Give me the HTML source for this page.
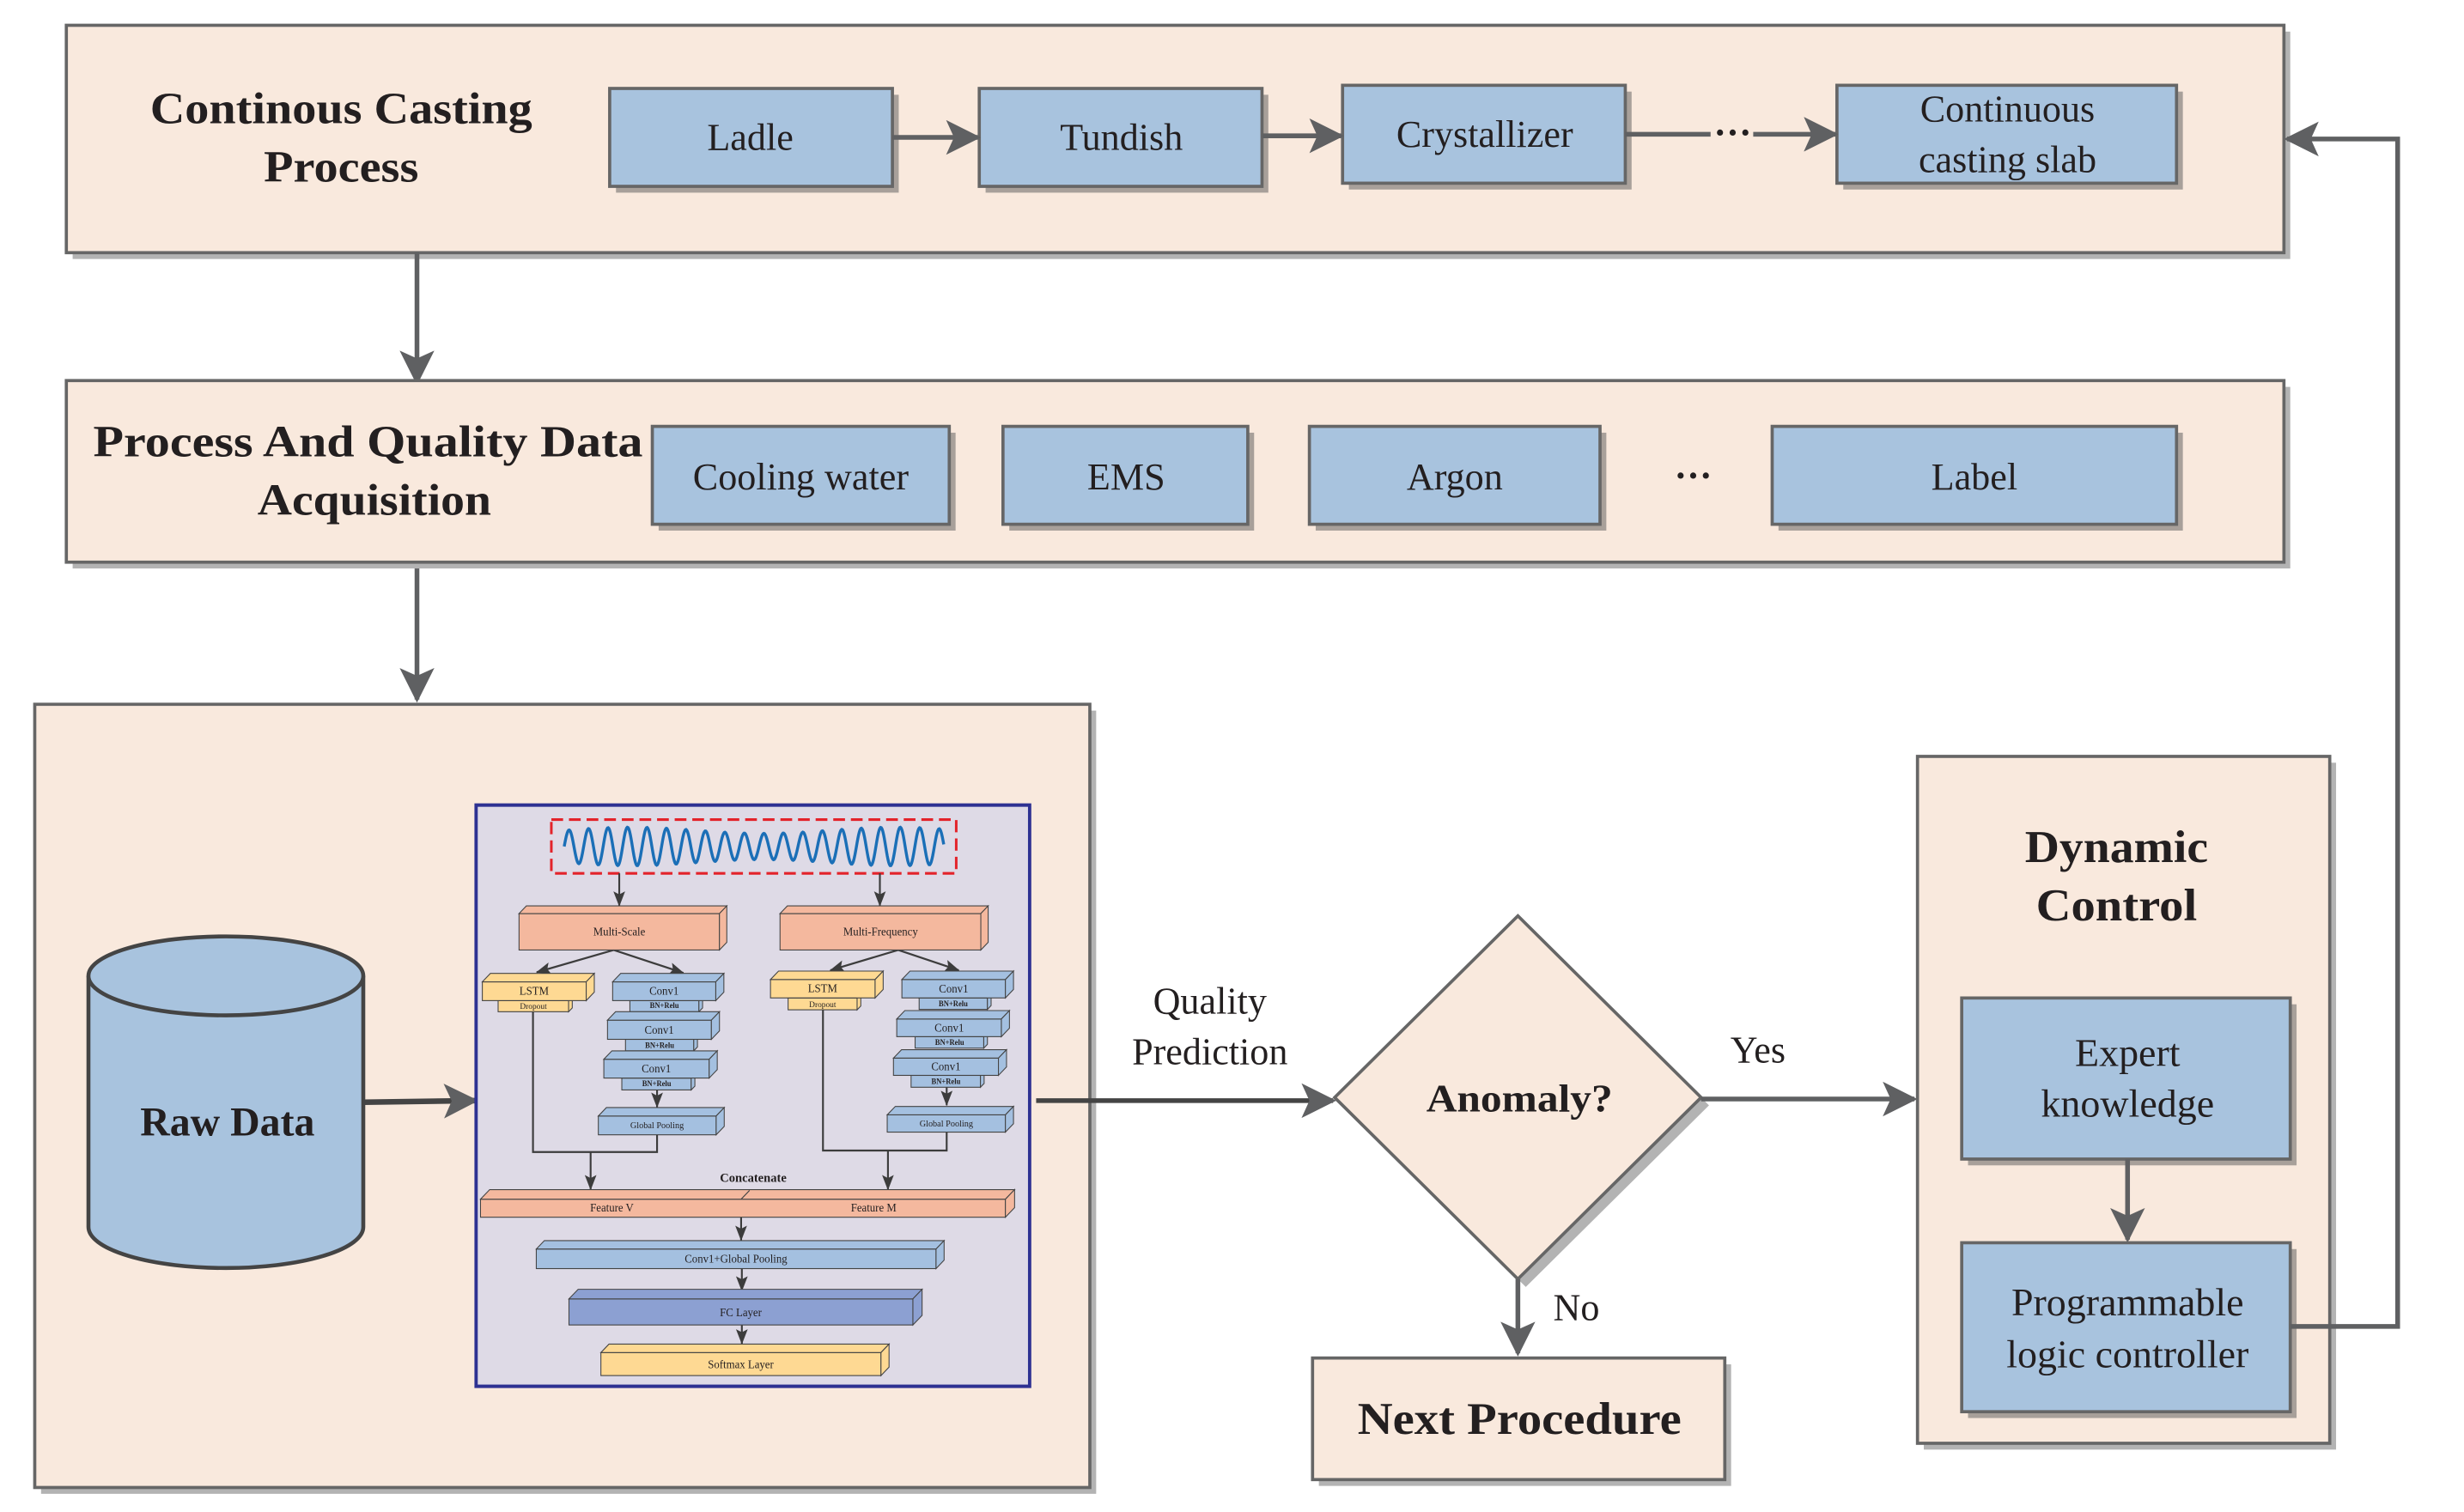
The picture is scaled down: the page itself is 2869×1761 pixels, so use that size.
<!DOCTYPE html>
<html><head><meta charset="utf-8"><style>
html,body{margin:0;padding:0;background:#fff;}
svg{display:block;}
text{font-family:"Liberation Serif",serif;fill:#231f20;}
.b{font-weight:bold;}
</style></head><body>
<svg width="2869" height="1761" viewBox="0 0 1560 957.5" xmlns="http://www.w3.org/2000/svg">
<defs>
<marker id="ah2" markerWidth="22" markerHeight="22" refX="20" refY="11" orient="auto" markerUnits="userSpaceOnUse" viewBox="0 0 22 22">
<path d="M0,0 L22,11 L0,22 L5,11 Z" fill="#5f6062"/></marker>
<marker id="sa" markerWidth="40" markerHeight="40" refX="38" refY="20" orient="auto" markerUnits="userSpaceOnUse" viewBox="0 0 40 40">
<path d="M0,4 L40,20 L0,36 L8,20 Z" fill="#3c3c3c"/></marker>
</defs>

<!-- Box 1 -->
<rect x="46" y="20" width="1404" height="144" fill="#b3b3b3"/>
<rect x="42" y="16" width="1404" height="144" fill="#f9e9dd" stroke="#666" stroke-width="2"/>
<text class="b" x="216" y="78" font-size="28" text-anchor="middle" textLength="242" lengthAdjust="spacingAndGlyphs">Continous Casting</text>
<text class="b" x="216" y="115" font-size="28" text-anchor="middle" textLength="98" lengthAdjust="spacingAndGlyphs">Process</text>
<g font-size="24" text-anchor="middle">
<rect x="390" y="60" width="179" height="62" fill="#a8a09a"/><rect x="386" y="56" width="179" height="62" fill="#a8c3de" stroke="#666" stroke-width="2"/><text x="475" y="95">Ladle</text>
<rect x="624" y="60" width="179" height="62" fill="#a8a09a"/><rect x="620" y="56" width="179" height="62" fill="#a8c3de" stroke="#666" stroke-width="2"/><text x="710" y="95">Tundish</text>
<rect x="854" y="58" width="179" height="62" fill="#a8a09a"/><rect x="850" y="54" width="179" height="62" fill="#a8c3de" stroke="#666" stroke-width="2"/><text x="940" y="93">Crystallizer</text>
<rect x="1167" y="58" width="215" height="62" fill="#a8a09a"/><rect x="1163" y="54" width="215" height="62" fill="#a8c3de" stroke="#666" stroke-width="2"/><text x="1271" y="77">Continuous</text><text x="1271" y="109">casting slab</text>
</g>
<g stroke="#5f6062" stroke-width="3" fill="none">
<line x1="565" y1="87" x2="619" y2="87" marker-end="url(#ah2)"/>
<line x1="799" y1="86" x2="849" y2="86" marker-end="url(#ah2)"/>
<line x1="1029" y1="85" x2="1083" y2="85"/>
<line x1="1110" y1="85" x2="1162" y2="85" marker-end="url(#ah2)"/>
<line x1="264" y1="160" x2="264" y2="242" marker-end="url(#ah2)"/>
<line x1="264" y1="356" x2="264" y2="443" marker-end="url(#ah2)"/>
</g>
<text class="b" x="1097" y="92" font-size="24" text-anchor="middle">···</text>

<!-- Box 2 -->
<rect x="46" y="245" width="1404" height="115" fill="#b3b3b3"/>
<rect x="42" y="241" width="1404" height="115" fill="#f9e9dd" stroke="#666" stroke-width="2"/>
<text class="b" x="233" y="289" font-size="28" text-anchor="middle" textLength="348" lengthAdjust="spacingAndGlyphs">Process And Quality  Data</text>
<text class="b" x="237" y="326" font-size="28" text-anchor="middle" textLength="148" lengthAdjust="spacingAndGlyphs">Acquisition</text>
<g font-size="24" text-anchor="middle">
<rect x="417" y="274" width="188" height="62" fill="#a8a09a"/><rect x="413" y="270" width="188" height="62" fill="#a8c3de" stroke="#666" stroke-width="2"/><text x="507" y="310">Cooling water</text>
<rect x="639" y="274" width="155" height="62" fill="#a8a09a"/><rect x="635" y="270" width="155" height="62" fill="#a8c3de" stroke="#666" stroke-width="2"/><text x="713" y="310">EMS</text>
<rect x="833" y="274" width="184" height="62" fill="#a8a09a"/><rect x="829" y="270" width="184" height="62" fill="#a8c3de" stroke="#666" stroke-width="2"/><text x="921" y="310">Argon</text>
<rect x="1126" y="274" width="256" height="62" fill="#a8a09a"/><rect x="1122" y="270" width="256" height="62" fill="#a8c3de" stroke="#666" stroke-width="2"/><text x="1250" y="310">Label</text>
</g>
<text class="b" x="1072" y="309" font-size="24" text-anchor="middle">···</text>

<!-- Box 3 -->
<rect x="26" y="450" width="668" height="496" fill="#b3b3b3"/>
<rect x="22" y="446" width="668" height="496" fill="#f9e9dd" stroke="#666" stroke-width="2"/>
<path d="M56,618 L56,777 A87,26 0 0 0 230,777 L230,618" fill="#a8c3de" stroke="#444" stroke-width="2.5"/>
<ellipse cx="143" cy="618" rx="87" ry="25" fill="#a8c3de" stroke="#444" stroke-width="2.5"/>
<text class="b" x="144" y="719" font-size="26" text-anchor="middle">Raw Data</text>
<line x1="230" y1="698" x2="301" y2="697" stroke="#444" stroke-width="3.5" marker-end="url(#ah2)"/>

<!-- network frame -->
<g transform="translate(299.1,505.7) scale(0.2324,0.2428)">
<rect x="10" y="17" width="1508" height="1516" fill="#dedae6" stroke="#2e3192" stroke-width="9"/>
<rect x="215" y="55" width="1103" height="140" fill="none" stroke="#e3232a" stroke-width="7" stroke-dasharray="32,16"/>
<path id="wave" fill="none" stroke="#1b6fb7" stroke-width="8" d=""/>
<g stroke="#3c3c3c" stroke-width="5" fill="none">
<line x1="400" y1="195" x2="400" y2="280" marker-end="url(#sa)"/>
<line x1="1110" y1="195" x2="1110" y2="280" marker-end="url(#sa)"/>
<line x1="385" y1="395" x2="175" y2="453" marker-end="url(#sa)"/>
<line x1="385" y1="395" x2="575" y2="455" marker-end="url(#sa)"/>
<line x1="1160" y1="395" x2="975" y2="448" marker-end="url(#sa)"/>
<line x1="1160" y1="395" x2="1325" y2="448" marker-end="url(#sa)"/>
<line x1="503" y1="760" x2="503" y2="805" marker-end="url(#sa)"/>
<line x1="1292" y1="753" x2="1292" y2="800" marker-end="url(#sa)"/>
<polyline points="165,556 165,922 503,922 503,877"/>
<polyline points="955,551 955,918 1292,918 1292,870"/>
<line x1="322" y1="922" x2="322" y2="1020" marker-end="url(#sa)"/>
<line x1="1132" y1="918" x2="1132" y2="1020" marker-end="url(#sa)"/>
<line x1="732" y1="1045" x2="732" y2="1152" marker-end="url(#sa)"/>
<line x1="734" y1="1226" x2="734" y2="1284" marker-end="url(#sa)"/>
<line x1="734" y1="1373" x2="734" y2="1422" marker-end="url(#sa)"/>
</g>
<g id="boxes" stroke="#444" stroke-width="2.5"></g>
<g font-size="30" text-anchor="middle">
<text x="400" y="357">Multi-Scale</text>
<text x="1112" y="357">Multi-Frequency</text>
<text x="168" y="512">LSTM</text><text x="166" y="549" font-size="22">Dropout</text>
<text x="522" y="512">Conv1</text><text x="523" y="546" font-size="20" class="b">BN+Relu</text>
<text x="509" y="613">Conv1</text><text x="510" y="650" font-size="20" class="b">BN+Relu</text>
<text x="501" y="714">Conv1</text><text x="502" y="750" font-size="20" class="b">BN+Relu</text>
<text x="503" y="860" font-size="24">Global Pooling</text>
<text x="954" y="505">LSTM</text><text x="954" y="544" font-size="22">Dropout</text>
<text x="1311" y="506">Conv1</text><text x="1310" y="542" font-size="20" class="b">BN+Relu</text>
<text x="1299" y="608">Conv1</text><text x="1300" y="643" font-size="20" class="b">BN+Relu</text>
<text x="1290" y="709">Conv1</text><text x="1290" y="745" font-size="20" class="b">BN+Relu</text>
<text x="1291" y="855" font-size="24">Global Pooling</text>
<text x="765" y="1000" font-size="34" class="b">Concatenate</text>
<text x="380" y="1077">Feature V</text>
<text x="1093" y="1077">Feature M</text>
<text x="718" y="1210">Conv1+Global Pooling</text>
<text x="731" y="1350">FC Layer</text>
<text x="731" y="1486">Softmax Layer</text>
</g>
</g>

<line x1="656" y1="697" x2="844" y2="697" stroke="#444" stroke-width="3" marker-end="url(#ah2)"/>
<text x="766" y="642" font-size="24" text-anchor="middle">Quality</text>
<text x="766" y="674" font-size="24" text-anchor="middle">Prediction</text>

<polygon points="966,585 1082,700 966,815 850,700" fill="#b3b3b3"/>
<polygon points="961,580 1077,695 961,810 845,695" fill="#f9e9dd" stroke="#666" stroke-width="2"/>
<text class="b" x="962" y="704" font-size="25" text-anchor="middle" textLength="118" lengthAdjust="spacingAndGlyphs">Anomaly?</text>
<line x1="961" y1="810" x2="961" y2="857" stroke="#5f6062" stroke-width="3" marker-end="url(#ah2)"/>
<text x="998" y="836" font-size="24" text-anchor="middle">No</text>
<rect x="835" y="864" width="261" height="77" fill="#b3b3b3"/>
<rect x="831" y="860" width="261" height="77" fill="#f9e9dd" stroke="#666" stroke-width="2"/>
<text class="b" x="962" y="908" font-size="29" text-anchor="middle" textLength="205" lengthAdjust="spacingAndGlyphs">Next Procedure</text>
<line x1="1077" y1="696" x2="1212" y2="696" stroke="#5f6062" stroke-width="3" marker-end="url(#ah2)"/>
<text x="1113" y="673" font-size="24" text-anchor="middle">Yes</text>

<rect x="1218" y="483" width="261" height="435" fill="#b3b3b3"/>
<rect x="1214" y="479" width="261" height="435" fill="#f9e9dd" stroke="#666" stroke-width="2"/>
<text class="b" x="1340" y="546" font-size="29" text-anchor="middle" textLength="116" lengthAdjust="spacingAndGlyphs">Dynamic</text>
<text class="b" x="1340" y="583" font-size="29" text-anchor="middle" textLength="102" lengthAdjust="spacingAndGlyphs">Control</text>
<rect x="1246" y="636" width="208" height="102" fill="#a8a09a"/>
<rect x="1242" y="632" width="208" height="102" fill="#a8c3de" stroke="#666" stroke-width="2"/>
<text x="1347" y="675" font-size="25" text-anchor="middle">Expert</text>
<text x="1347" y="707" font-size="25" text-anchor="middle">knowledge</text>
<line x1="1347" y1="734" x2="1347" y2="785" stroke="#5f6062" stroke-width="3" marker-end="url(#ah2)"/>
<rect x="1246" y="791" width="208" height="107" fill="#a8a09a"/>
<rect x="1242" y="787" width="208" height="107" fill="#a8c3de" stroke="#666" stroke-width="2"/>
<text x="1347" y="833" font-size="25" text-anchor="middle">Programmable</text>
<text x="1347" y="866" font-size="25" text-anchor="middle">logic controller</text>
<polyline points="1450,840 1518,840 1518,88 1448,88" fill="none" stroke="#5f6062" stroke-width="3" marker-end="url(#ah2)"/>
</svg>
<script>
(function(){
var ns="http://www.w3.org/2000/svg";
var d="",n=0;
for(var x=250;x<=1285;x+=2){
 var t=(x-250)/1035;
 var a=42+8*Math.sin(t*9);
 var y=125-a*Math.sin(t*2*Math.PI*19.5);
 d+=(n++?"L":"M")+x+","+y.toFixed(1);
}
document.getElementById("wave").setAttribute("d",d);
var g=document.getElementById("boxes");
function box(x,y,w,h,dd,fill){
 var p=[[x,y,x+dd,y-dd,x+w+dd,y-dd,x+w,y],[x+w,y,x+w+dd,y-dd,x+w+dd,y+h-dd,x+w,y+h]];
 var r=document.createElementNS(ns,"rect");
 r.setAttribute("x",x);r.setAttribute("y",y);r.setAttribute("width",w);r.setAttribute("height",h);r.setAttribute("fill",fill);g.appendChild(r);
 p.forEach(function(q){var pg=document.createElementNS(ns,"polygon");pg.setAttribute("points",q.join(","));pg.setAttribute("fill",fill);g.appendChild(pg);});
}
var S="#f4b89e",Y="#fed993",B="#a4c0e0",F="#8ca0d2";
box(127,300,546,95,20,S);box(838,300,547,95,20,S);
box(70,527,192,29,10,Y);box(27,478,283,49,22,Y);
box(860,520,188,31,10,Y);box(812,472,285,48,22,Y);
box(429,527,188,29,10,B);box(382,478,281,49,22,B);
box(417,628,186,30,10,B);box(368,578,283,50,22,B);
box(407,729,189,31,10,B);box(358,680,287,49,22,B);
box(343,828,321,49,22,B);
box(1217,520,186,30,10,B);box(1170,472,282,48,22,B);
box(1206,621,187,30,10,B);box(1156,575,285,46,22,B);
box(1195,722,189,31,10,B);box(1147,677,286,45,22,B);
box(1130,825,322,45,22,B);
box(22,1045,1430,47,25,S);
box(174,1175,1089,51,22,B);
box(263,1305,937,68,25,F);
box(350,1445,763,60,22,Y);
var l=document.createElementNS(ns,"line");l.setAttribute("x1",732);l.setAttribute("y1",1045);l.setAttribute("x2",755);l.setAttribute("y2",1022);g.appendChild(l);
})();
</script>
</body></html>
